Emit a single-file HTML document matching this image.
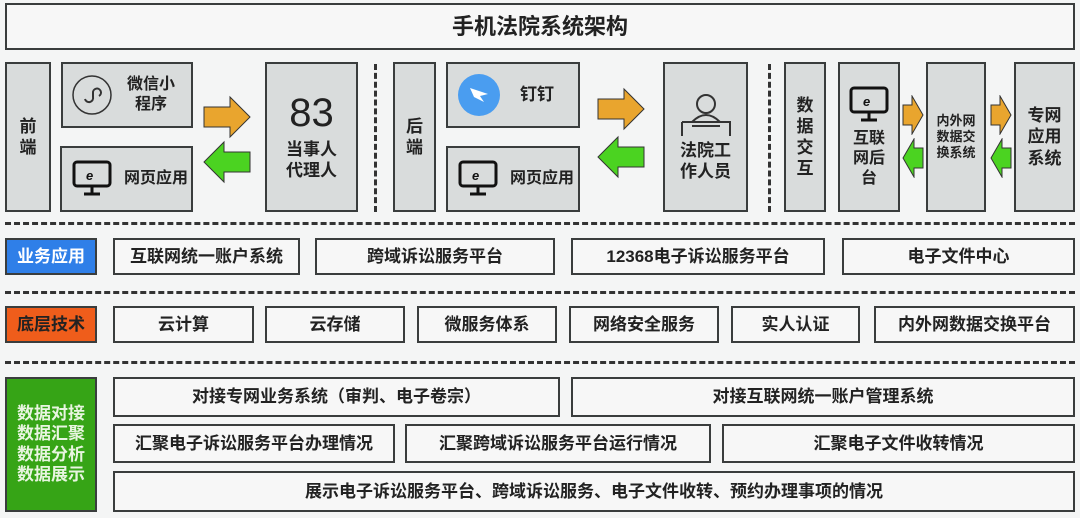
<!DOCTYPE html>
<html><head><meta charset="utf-8"><style>
body{margin:0;width:1080px;height:518px;background:#f4f5f5;position:relative;overflow:hidden;font-family:"Liberation Sans","Noto Sans CJK SC",sans-serif;color:#222;font-weight:bold}
.b{position:absolute;box-sizing:border-box;border:2px solid #3a3d3d;display:flex;align-items:center;justify-content:center;text-align:center;line-height:1.25}
.g{background:#d9dcdc}
.w{background:#f7f7f7;font-size:17px}
.v{font-size:17px}
.dh{position:absolute;left:5px;width:1070px;border-top:3px dashed #333}
.dv{position:absolute;top:64px;height:148px;border-left:3px dashed #333}
svg{position:absolute}
</style></head><body>
<div class="b" style="left:5px;top:3px;width:1070px;height:47px;background:#f7f7f7;font-size:22px">手机法院系统架构</div>

<div class="b g v" style="left:5px;top:62px;width:46px;height:150px">前<br>端</div>
<div class="b g v" style="left:61px;top:62px;width:132px;height:66px;justify-content:flex-start;padding-left:8px"><svg style="position:static;flex:none" width="42" height="42" viewBox="0 0 42 42"><circle cx="21" cy="21" r="19" fill="none" stroke="#333" stroke-width="1.5"/><path d="M14 25a4 4 0 1 0 8 -2v-4a4 4 0 1 1 6 3" fill="none" stroke="#333" stroke-width="2"/></svg><span style="margin-left:14px;font-size:16px">微信小<br>程序</span></div>
<div class="b g v" style="left:60px;top:146px;width:133px;height:66px;justify-content:flex-start;padding-left:10px"><svg style="position:static;flex:none" width="40" height="40" viewBox="0 0 40 40"><rect x="2" y="3" width="36" height="24" rx="3" fill="none" stroke="#111" stroke-width="3"/><path d="M20 27v7M12 35h16" stroke="#111" stroke-width="3"/><text x="14" y="21" font-size="13" font-style="italic" fill="#111">e</text></svg><span style="margin-left:12px;font-size:16px">网页应用</span></div>
<svg style="left:202px;top:95px" width="50" height="45"><polygon points="2,12 28,12 28,2 48,22 28,42 28,32 2,32" fill="#e9a52e" stroke="#333"/></svg>
<svg style="left:202px;top:140px" width="50" height="45"><polygon points="48,12 22,12 22,2 2,22 22,42 22,32 48,32" fill="#4bd321" stroke="#333"/></svg>
<div class="b g v" style="left:265px;top:62px;width:93px;height:150px;flex-direction:column"><span style="font-size:40px;line-height:1;font-weight:normal">83</span><span style="font-size:17px;margin-top:6px">当事人<br>代理人</span></div>
<div class="dv" style="left:374px"></div>

<div class="b g v" style="left:393px;top:62px;width:43px;height:150px">后<br>端</div>
<div class="b g v" style="left:446px;top:62px;width:134px;height:66px;justify-content:flex-start;padding-left:10px"><svg style="position:static;flex:none" width="42" height="42"><circle cx="21" cy="21" r="21" fill="#4a9df0"/><path d="M12 14l18 6-8 2 4 6-10-5z" fill="#fff"/></svg><span style="margin-left:20px;font-size:17px">钉钉</span></div>
<div class="b g v" style="left:446px;top:146px;width:134px;height:66px;justify-content:flex-start;padding-left:10px"><svg style="position:static;flex:none" width="40" height="40" viewBox="0 0 40 40"><rect x="2" y="3" width="36" height="24" rx="3" fill="none" stroke="#111" stroke-width="3"/><path d="M20 27v7M12 35h16" stroke="#111" stroke-width="3"/><text x="14" y="21" font-size="13" font-style="italic" fill="#111">e</text></svg><span style="margin-left:12px;font-size:16px">网页应用</span></div>
<svg style="left:596px;top:87px" width="50" height="45"><polygon points="2,12 28,12 28,2 48,22 28,42 28,32 2,32" fill="#e9a52e" stroke="#333"/></svg>
<svg style="left:596px;top:135px" width="50" height="45"><polygon points="48,12 22,12 22,2 2,22 22,42 22,32 48,32" fill="#4bd321" stroke="#333"/></svg>
<div class="b g v" style="left:663px;top:62px;width:85px;height:150px;flex-direction:column"><svg style="position:static" width="56" height="44"><circle cx="28" cy="12" r="9" fill="none" stroke="#333" stroke-width="2"/><path d="M14 30q14-14 28 0M4 30h48v14M4 30v14M14 34h28" fill="none" stroke="#333" stroke-width="2"/></svg><span style="font-size:17px;margin-top:4px">法院工<br>作人员</span></div>
<div class="dv" style="left:768px"></div>

<div class="b g v" style="left:784px;top:62px;width:42px;height:150px">数<br>据<br>交<br>互</div>
<div class="b g v" style="left:838px;top:62px;width:62px;height:150px;flex-direction:column"><svg style="position:static" width="40" height="40" viewBox="0 0 40 40"><rect x="2" y="3" width="36" height="24" rx="3" fill="none" stroke="#111" stroke-width="3"/><path d="M20 27v7M12 35h16" stroke="#111" stroke-width="3"/><text x="14" y="21" font-size="13" font-style="italic" fill="#111">e</text></svg><span style="font-size:16px;margin-top:4px">互联<br>网后<br>台</span></div>
<svg style="left:902px;top:95px" width="22" height="40"><polygon points="1,10 10,10 10,1 21,20 10,39 10,30 1,30" fill="#e9a52e" stroke="#333"/></svg>
<svg style="left:902px;top:138px" width="22" height="40"><polygon points="21,10 12,10 12,1 1,20 12,39 12,30 21,30" fill="#4bd321" stroke="#333"/></svg>
<div class="b g" style="left:926px;top:62px;width:60px;height:150px;font-size:13px">内外网<br>数据交<br>换系统</div>
<svg style="left:990px;top:95px" width="22" height="40"><polygon points="1,10 10,10 10,1 21,20 10,39 10,30 1,30" fill="#e9a52e" stroke="#333"/></svg>
<svg style="left:990px;top:138px" width="22" height="40"><polygon points="21,10 12,10 12,1 1,20 12,39 12,30 21,30" fill="#4bd321" stroke="#333"/></svg>
<div class="b g" style="left:1014px;top:62px;width:61px;height:150px;font-size:17px">专网<br>应用<br>系统</div>

<div class="dh" style="top:222px"></div>
<div class="b" style="left:5px;top:238px;width:92px;height:37px;background:#2f7fe8;color:#fff;font-size:17px">业务应用</div>
<div class="b w" style="left:113px;top:238px;width:187px;height:37px">互联网统一账户系统</div>
<div class="b w" style="left:315px;top:238px;width:240px;height:37px">跨域诉讼服务平台</div>
<div class="b w" style="left:571px;top:238px;width:254px;height:37px">12368电子诉讼服务平台</div>
<div class="b w" style="left:842px;top:238px;width:233px;height:37px">电子文件中心</div>

<div class="dh" style="top:291px"></div>
<div class="b" style="left:5px;top:306px;width:92px;height:37px;background:#ef5d1b;font-size:17px">底层技术</div>
<div class="b w" style="left:113px;top:306px;width:141px;height:37px">云计算</div>
<div class="b w" style="left:265px;top:306px;width:140px;height:37px">云存储</div>
<div class="b w" style="left:417px;top:306px;width:140px;height:37px">微服务体系</div>
<div class="b w" style="left:569px;top:306px;width:150px;height:37px">网络安全服务</div>
<div class="b w" style="left:731px;top:306px;width:129px;height:37px">实人认证</div>
<div class="b w" style="left:874px;top:306px;width:201px;height:37px">内外网数据交换平台</div>

<div class="dh" style="top:361px"></div>
<div class="b" style="left:5px;top:377px;width:92px;height:135px;background:#36a416;color:#e8f5e0;font-size:17px;line-height:1.2">数据对接<br>数据汇聚<br>数据分析<br>数据展示</div>
<div class="b w" style="left:113px;top:377px;width:447px;height:40px">对接专网业务系统（审判、电子卷宗）</div>
<div class="b w" style="left:571px;top:377px;width:504px;height:40px">对接互联网统一账户管理系统</div>
<div class="b w" style="left:113px;top:424px;width:282px;height:39px">汇聚电子诉讼服务平台办理情况</div>
<div class="b w" style="left:405px;top:424px;width:306px;height:39px">汇聚跨域诉讼服务平台运行情况</div>
<div class="b w" style="left:722px;top:424px;width:353px;height:39px">汇聚电子文件收转情况</div>
<div class="b w" style="left:113px;top:471px;width:962px;height:41px">展示电子诉讼服务平台、跨域诉讼服务、电子文件收转、预约办理事项的情况</div>
</body></html>
